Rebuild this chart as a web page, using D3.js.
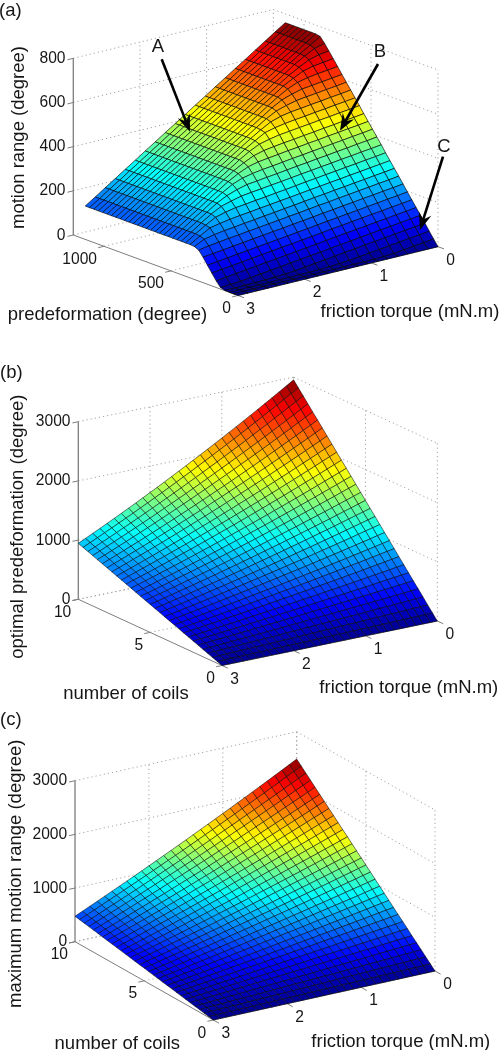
<!DOCTYPE html>
<html>
<head>
<meta charset="utf-8">
<style>
  html, body { margin: 0; padding: 0; background: #fff; }
  svg { display: block; font-family: "Liberation Sans", Arial, sans-serif; filter: blur(0.35px); }
  text { fill: #161616; }
</style>
</head>
<body>
<div id="chart"></div>
<script src="https://cdn.jsdelivr.net/npm/d3@7"></script>
<script>
// Mesh axes
const torqueCoarse = [0,0.15,0.3,0.45,0.6,0.75,0.9,1.05,1.2,1.35,1.5,1.65,1.8,1.95,2.1,2.25,2.4,2.55,2.7,2.85,3];
const torque = [0,0.1,0.2,0.3,0.4,0.5,0.6,0.7,0.8,0.9,1,1.1,1.2,1.3,1.4,1.5,1.6,1.7,1.8,1.9,2,2.1,2.2,2.3,2.4,2.5,2.6,2.7,2.8,2.9,3];
const predeformation = [0,32.6,65.1,97.7,130.3,162.9,195.4,228,260.6,293.1,325.7,358.3,390.9,423.4,456,488.6,521.1,553.7,586.3,618.9,651.4,684,716.6,749.1,781.7,814.3,846.9,879.4,912,944.6,977.1,1009.7,1042.3,1074.9,1107.4,1140];
const coils = [0,0.33,0.67,1,1.33,1.67,2,2.33,2.67,3,3.33,3.67,4,4.33,4.67,5,5.33,5.67,6,6.33,6.67,7,7.33,7.67,8,8.33,8.67,9,9.33,9.67,10];

// Tick labels
const torqueTicks = [0,1,2,3];
const predefTicks = [0,500,1000];
const coilTicks = [0,5,10];
const rangeTicks = [0,200,400,600,800];
const thousandTicks = [0,1000,2000,3000];

// (a) motion range: one row per torque, one column per predeformation
const motionRange = [
[0,28,56,85,113,141,169,197,226,254,282,310,338,367,395,423,451,479,508,536,564,592,620,649,677,705,732,756,760,760,760,760,760,760,760,760],
[0,22,50,79,107,135,163,191,220,248,276,304,332,361,389,417,445,473,502,530,558,586,614,643,671,698,719,727,730,730,730,730,730,730,730,730],
[0,17,45,74,102,130,158,186,215,243,271,299,327,356,384,412,440,468,497,525,553,581,609,638,665,686,696,699,699,699,699,699,699,699,699,699],
[0,11,39,68,96,124,152,180,209,237,265,293,321,350,378,406,434,462,491,519,547,575,603,631,654,663,669,669,669,669,669,669,669,669,669,669],
[0,6,34,63,91,119,147,175,204,232,260,288,316,345,373,401,429,457,486,514,542,570,598,621,632,638,638,638,638,638,638,638,638,638,638,638],
[0,3,28,57,85,113,141,169,198,226,254,282,310,339,367,395,423,451,480,508,536,564,586,602,608,608,608,608,608,608,608,608,608,608,608,608],
[0,2,23,52,80,108,136,164,193,221,249,277,305,334,362,390,418,446,475,503,531,553,571,576,577,577,577,577,577,577,577,577,577,577,577,577],
[0,1,17,46,74,102,130,158,187,215,243,271,299,328,356,384,412,440,469,497,522,539,546,547,547,547,547,547,547,547,547,547,547,547,547,547],
[0,1,12,41,69,97,125,153,182,210,238,266,294,323,351,379,407,435,464,489,508,515,516,516,516,516,516,516,516,516,516,516,516,516,516,516],
[0,0,8,35,63,91,119,147,176,204,232,260,288,317,345,373,401,429,455,478,483,486,486,486,486,486,486,486,486,486,486,486,486,486,486,486],
[0,0,5,29,57,85,113,141,170,198,226,254,282,311,339,367,395,422,444,452,455,455,455,455,455,455,455,455,455,455,455,455,455,455,455,455],
[0,0,3,24,52,80,108,136,165,193,221,249,277,306,334,362,389,410,422,425,425,425,425,425,425,425,425,425,425,425,425,425,425,425,425,425],
[0,0,2,18,46,74,102,130,159,187,215,243,271,300,328,355,378,389,395,395,395,395,395,395,395,395,395,395,395,395,395,395,395,395,395,395],
[0,0,2,13,41,69,97,125,154,182,210,238,266,295,323,345,358,364,364,364,364,364,364,364,364,364,364,364,364,364,364,364,364,364,364,364],
[0,0,1,9,35,63,91,119,148,176,204,232,260,289,311,328,333,334,334,334,334,334,334,334,334,334,334,334,334,334,334,334,334,334,334,334],
[0,0,1,6,30,58,86,114,143,171,199,227,255,278,295,302,303,303,303,303,303,303,303,303,303,303,303,303,303,303,303,303,303,303,303,303],
[0,0,0,4,24,52,80,108,137,165,193,221,246,265,272,273,273,273,273,273,273,273,273,273,273,273,273,273,273,273,273,273,273,273,273,273],
[0,0,0,3,19,47,75,103,132,160,188,213,234,241,242,242,242,242,242,242,242,242,242,242,242,242,242,242,242,242,242,242,242,242,242,242],
[0,0,0,2,13,41,69,97,126,154,181,204,209,212,212,212,212,212,212,212,212,212,212,212,212,212,212,212,212,212,212,212,212,212,212,212],
[0,0,0,1,10,36,64,92,121,148,171,178,181,181,181,181,181,181,181,181,181,181,181,181,181,181,181,181,181,181,181,181,181,181,181,181],
[0,0,0,1,7,30,58,86,115,140,149,151,151,151,151,151,151,151,151,151,151,151,151,151,151,151,151,151,151,151,151,151,151,151,151,151]
];

// (b) optimal predeformation: one row per torque, one column per coil count
const optimalPredef = [
[0,99,197,296,394,493,591,690,788,887,985,1084,1182,1281,1379,1478,1576,1675,1773,1872,1970,2069,2167,2266,2364,2463,2561,2660,2758,2857,2955],
[0,96,192,288,384,480,576,672,768,864,960,1056,1152,1247,1343,1440,1535,1631,1727,1823,1919,2015,2111,2207,2303,2399,2495,2591,2687,2783,2879],
[0,93,187,280,374,467,561,654,748,841,935,1028,1122,1215,1309,1402,1495,1589,1682,1776,1869,1963,2056,2150,2243,2337,2430,2524,2617,2711,2804],
[0,91,182,273,364,455,546,637,728,819,910,1001,1092,1183,1274,1365,1455,1546,1637,1728,1819,1910,2001,2092,2183,2274,2365,2456,2547,2638,2729],
[0,89,177,266,354,443,531,620,708,797,885,974,1062,1151,1239,1328,1416,1505,1593,1682,1770,1859,1947,2036,2124,2213,2301,2390,2478,2567,2655],
[0,86,172,258,344,430,516,602,688,774,860,946,1032,1118,1204,1290,1376,1463,1549,1635,1721,1807,1893,1979,2065,2151,2237,2323,2409,2495,2581],
[0,84,167,251,334,418,502,585,669,752,836,920,1003,1087,1170,1254,1338,1421,1505,1588,1672,1756,1839,1923,2006,2090,2174,2257,2341,2424,2508],
[0,81,162,244,325,406,487,568,650,731,812,893,974,1056,1137,1218,1299,1380,1462,1543,1624,1705,1786,1868,1949,2030,2111,2192,2274,2355,2436],
[0,79,158,236,315,394,473,552,630,709,788,867,946,1024,1103,1182,1261,1340,1418,1497,1576,1655,1734,1812,1891,1970,2049,2128,2206,2285,2364],
[0,76,153,229,306,382,459,535,611,688,764,841,917,994,1070,1147,1223,1299,1376,1452,1529,1605,1681,1758,1834,1911,1987,2064,2140,2217,2293],
[0,74,148,222,296,371,445,519,593,667,741,815,889,963,1037,1112,1186,1260,1334,1408,1482,1556,1630,1704,1778,1853,1927,2001,2075,2149,2223],
[0,72,144,215,287,359,431,502,574,646,718,789,861,933,1005,1077,1148,1220,1292,1364,1435,1507,1579,1651,1722,1794,1866,1938,2010,2081,2153],
[0,69,139,208,278,347,417,486,556,625,695,764,834,903,973,1042,1112,1181,1250,1320,1389,1459,1528,1598,1667,1737,1806,1876,1945,2015,2084],
[0,67,134,202,269,336,403,470,537,605,672,739,806,873,940,1008,1075,1142,1209,1276,1343,1411,1478,1545,1612,1679,1746,1814,1881,1948,2015],
[0,65,130,195,260,325,390,455,519,584,649,714,779,844,909,974,1039,1104,1169,1234,1299,1364,1428,1493,1558,1623,1688,1753,1818,1883,1948],
[0,63,125,188,251,313,376,439,501,564,627,689,752,815,877,940,1003,1065,1128,1191,1253,1316,1379,1441,1504,1567,1629,1692,1755,1817,1880],
[0,60,121,181,242,302,363,423,484,544,605,665,726,786,847,907,967,1028,1088,1149,1209,1270,1330,1391,1451,1512,1572,1633,1693,1754,1814],
[0,58,116,175,233,291,349,408,466,524,582,641,699,757,815,874,932,990,1048,1106,1165,1223,1281,1339,1398,1456,1514,1572,1631,1689,1747],
[0,56,112,168,224,280,336,392,449,505,561,617,673,729,785,841,897,953,1009,1065,1121,1177,1234,1290,1346,1402,1458,1514,1570,1626,1682],
[0,54,108,162,216,270,323,377,431,485,539,593,647,701,755,809,862,916,970,1024,1078,1132,1186,1240,1294,1348,1401,1455,1509,1563,1617],
[0,52,104,155,207,259,311,362,414,466,518,569,621,673,725,777,828,880,932,984,1035,1087,1139,1191,1242,1294,1346,1398,1450,1501,1553],
[0,50,99,149,199,248,298,347,397,447,496,546,596,645,695,744,794,844,893,943,993,1042,1092,1141,1191,1241,1290,1340,1390,1439,1489],
[0,48,95,143,190,238,285,333,380,428,475,523,570,618,665,713,761,808,856,903,951,998,1046,1093,1141,1188,1236,1283,1331,1378,1426],
[0,45,91,136,182,227,273,318,364,409,455,500,546,591,637,682,727,773,818,864,909,955,1000,1046,1091,1137,1182,1228,1273,1319,1364],
[0,43,87,130,174,217,260,304,347,391,434,477,521,564,608,651,694,738,781,825,868,911,955,998,1042,1085,1128,1172,1215,1259,1302],
[0,41,83,124,165,207,248,290,331,372,414,455,496,538,579,621,662,703,745,786,827,869,910,951,993,1034,1076,1117,1158,1200,1241],
[0,39,79,118,157,197,236,276,315,354,394,433,472,512,551,591,630,669,709,748,787,827,866,906,945,984,1024,1063,1102,1142,1181],
[0,37,75,112,149,187,224,262,299,336,374,411,448,486,523,561,598,635,673,710,747,785,822,860,897,934,972,1009,1046,1084,1121],
[0,35,71,106,142,177,212,248,283,319,354,389,425,460,496,531,566,602,637,673,708,743,779,814,850,885,920,956,991,1027,1062],
[0,33,67,100,134,167,201,234,267,301,334,368,401,435,468,501,535,568,602,635,669,702,735,769,802,836,869,903,936,969,1003],
[0,32,63,95,126,158,189,221,252,284,315,347,378,410,441,473,504,536,567,599,630,662,693,725,756,788,819,851,882,914,945]
];

// (c) maximum motion range: one row per torque, one column per coil count
const maxMotionRange = [
[0,83,166,249,332,415,498,581,664,747,830,913,996,1079,1162,1245,1328,1411,1494,1577,1660,1743,1826,1909,1992,2075,2158,2241,2324,2407,2490],
[0,81,161,242,322,403,483,564,645,725,806,886,967,1047,1128,1209,1289,1370,1450,1531,1611,1692,1772,1853,1934,2014,2095,2175,2256,2336,2417],
[0,78,156,235,313,391,469,547,625,704,782,860,938,1016,1094,1173,1251,1329,1407,1485,1563,1642,1720,1798,1876,1954,2032,2111,2189,2267,2345],
[0,76,152,227,303,379,455,530,606,682,758,833,909,985,1061,1137,1212,1288,1364,1440,1515,1591,1667,1743,1818,1894,1970,2046,2122,2197,2273],
[0,73,147,220,293,367,440,514,587,660,734,807,880,954,1027,1101,1174,1247,1321,1394,1467,1541,1614,1688,1761,1834,1908,1981,2054,2128,2201],
[0,71,142,213,284,355,426,497,568,639,710,781,852,923,994,1065,1136,1207,1278,1349,1420,1491,1562,1633,1704,1775,1846,1917,1988,2059,2130],
[0,69,137,206,275,343,412,481,549,618,687,755,824,893,961,1030,1099,1167,1236,1305,1373,1442,1511,1579,1648,1717,1785,1854,1923,1991,2060],
[0,66,133,199,265,332,398,464,530,597,663,729,796,862,928,995,1061,1127,1193,1260,1326,1392,1459,1525,1591,1658,1724,1790,1856,1923,1989],
[0,64,128,192,256,320,384,448,512,576,640,704,768,832,896,960,1024,1088,1152,1216,1280,1344,1408,1472,1536,1600,1664,1728,1792,1856,1920],
[0,62,123,185,247,308,370,431,493,555,616,678,740,801,863,925,986,1048,1109,1171,1233,1294,1356,1418,1479,1541,1602,1664,1726,1787,1849],
[0,59,119,178,237,297,356,415,475,534,593,653,712,771,831,890,949,1009,1068,1127,1187,1246,1305,1365,1424,1483,1543,1602,1661,1721,1780],
[0,57,114,171,228,285,342,399,456,513,570,627,684,741,798,856,913,970,1027,1084,1141,1198,1255,1312,1369,1426,1483,1540,1597,1654,1711],
[0,55,110,164,219,274,329,383,438,493,548,602,657,712,767,822,876,931,986,1041,1095,1150,1205,1260,1314,1369,1424,1479,1534,1588,1643],
[0,53,105,158,210,263,315,368,420,473,525,578,630,683,735,788,840,893,945,998,1050,1103,1155,1208,1260,1313,1365,1418,1470,1523,1575],
[0,50,100,151,201,251,301,352,402,452,502,553,603,653,703,754,804,854,904,954,1005,1055,1105,1155,1206,1256,1306,1356,1407,1457,1507],
[0,48,96,144,192,240,288,336,384,432,480,528,576,624,672,720,768,815,863,911,959,1007,1055,1103,1151,1199,1247,1295,1343,1391,1439],
[0,46,91,137,183,229,274,320,366,412,457,503,549,595,640,686,732,777,823,869,915,960,1006,1052,1098,1143,1189,1235,1281,1326,1372],
[0,44,87,131,174,218,261,305,348,392,435,479,522,566,609,653,697,740,784,827,871,914,958,1001,1045,1088,1132,1175,1219,1262,1306],
[0,41,83,124,165,207,248,289,331,372,413,455,496,537,579,620,661,703,744,785,827,868,909,951,992,1033,1075,1116,1157,1199,1240],
[0,39,78,117,157,196,235,274,313,352,391,430,470,509,548,587,626,665,704,743,783,822,861,900,939,978,1017,1057,1096,1135,1174],
[0,37,74,111,148,185,222,259,296,333,370,407,444,481,518,555,591,628,665,702,739,776,813,850,887,924,961,998,1035,1072,1109],
[0,35,70,104,139,174,209,243,278,313,348,382,417,452,487,522,556,591,626,661,695,730,765,800,834,869,904,939,973,1008,1043],
[0,33,65,98,131,163,196,228,261,294,326,359,392,424,457,490,522,555,587,620,653,685,718,751,783,816,848,881,914,946,979],
[0,30,61,91,122,152,183,213,244,274,305,335,366,396,427,457,487,518,548,579,609,640,670,701,731,762,792,823,853,884,914],
[0,28,57,85,113,142,170,199,227,255,284,312,340,369,397,426,454,482,511,539,567,596,624,652,681,709,738,766,794,823,851],
[0,26,52,79,105,131,157,184,210,236,262,289,315,341,367,394,420,446,472,498,525,551,577,603,630,656,682,708,735,761,787],
[0,24,48,72,97,121,145,169,193,217,241,265,290,314,338,362,386,410,434,459,483,507,531,555,579,603,628,652,676,700,724],
[0,22,44,66,88,110,132,154,176,198,220,242,264,286,308,330,353,375,397,419,441,463,485,507,529,551,573,595,617,639,661],
[0,20,40,60,80,100,120,140,159,179,199,219,239,259,279,299,319,339,359,379,399,419,439,459,478,498,518,538,558,578,598],
[0,18,36,54,71,89,107,125,143,161,179,197,214,232,250,268,286,304,322,340,357,375,393,411,429,447,465,483,500,518,536],
[0,16,32,48,63,79,95,111,127,143,158,174,190,206,222,238,253,269,285,301,317,333,348,364,380,396,412,428,443,459,475]
];

const width = 500;
const height = 1050;

const svg = d3.select("#chart").append("svg")
  .attr("width", width)
  .attr("height", height);

// matlab jet
const jetStops = [0, 0.125, 0.375, 0.625, 0.875, 1];
const jetColors = ["#00008f", "#0000ff", "#00ffff", "#ffff00", "#ff0000", "#800000"];

const gridColor = "#a2a2a2";
const axisColor = "#7d7d7d";

function text(g, x, y, str, size, anchor, rotate) {
  const t = g.append("text")
    .attr("font-size", size)
    .attr("text-anchor", anchor || "middle")
    .attr("dominant-baseline", "central")
    .text(str);
  if (rotate) t.attr("transform", `translate(${x},${y}) rotate(${rotate})`);
  else t.attr("x", x).attr("y", y);
  return t;
}

function drawPanel(p) {
  const g = svg.append("g");

  // orthographic view: three unit scales mapped on to the box edges
  const u = d3.scaleLinear().domain([p.xMax, 0]).range([0, 1]);
  const v = d3.scaleLinear().domain([0, p.yMax]).range([0, 1]);
  const w = d3.scaleLinear().domain([0, p.zMax]).range([0, p.boxHeight]);
  const ex = [p.right[0] - p.front[0], p.right[1] - p.front[1]];
  const ey = [p.left[0] - p.front[0], p.left[1] - p.front[1]];
  const project = (x, y, z) => [
    p.front[0] + u(x) * ex[0] + v(y) * ey[0],
    p.front[1] + u(x) * ex[1] + v(y) * ey[1] - w(z),
  ];

  const line = d3.line();
  const dotted = (a, b) => g.append("path")
    .attr("d", line([a, b]))
    .attr("fill", "none")
    .attr("stroke", gridColor)
    .attr("stroke-width", 1)
    .attr("stroke-dasharray", "1.2 3");
  const solid = (a, b, sw) => g.append("path")
    .attr("d", line([a, b]))
    .attr("fill", "none")
    .attr("stroke", axisColor)
    .attr("stroke-width", sw || 1);

  // back walls and floor
  p.zTicks.forEach((z) => {
    dotted(project(p.xMax, p.yMax, z), project(0, p.yMax, z));
    dotted(project(0, p.yMax, z), project(0, 0, z));
  });
  p.xTicks.filter((x) => x < p.xMax).forEach((x) => {
    dotted(project(x, p.yMax, 0), project(x, p.yMax, p.zMax));
    dotted(project(x, 0, 0), project(x, p.yMax, 0));
  });
  p.yTicks.forEach((y) => {
    dotted(project(0, y, 0), project(0, y, p.zMax));
    dotted(project(p.xMax, y, 0), project(0, y, 0));
  });

  // axis lines under the surface
  solid(project(p.xMax, p.yMax, 0), project(p.xMax, p.yMax, p.zMax), 1.3);
  solid(project(p.xMax, p.yMax, 0), project(p.xMax, 0, 0));
  solid(project(p.xMax, 0, 0), project(0, 0, 0));

  // ticks stick out of the box
  const len = Math.hypot(ex[0], ex[1]);
  const outX = [-ex[0] / len * 6, -ex[1] / len * 6];
  const lenY = Math.hypot(ey[0], ey[1]);
  const outY = [-ey[0] / lenY * 6.5, -ey[1] / lenY * 6.5];
  p.zTicks.forEach((z) => {
    const a = project(p.xMax, p.yMax, z);
    solid(a, [a[0] + outX[0], a[1] + outX[1]]);
  });
  p.yTicks.forEach((y) => {
    const a = project(p.xMax, y, 0);
    solid(a, [a[0] + outX[0], a[1] + outX[1]]);
  });
  p.xTicks.forEach((x) => {
    const a = project(x, 0, 0);
    solid(a, [a[0] + outY[0], a[1] + outY[1]]);
  });

  // the surface, painted from the back corner to the front
  const zTop = d3.max(p.z, (row) => d3.max(row));
  const jet = d3.scaleLinear()
    .domain(jetStops.map((s) => s * zTop))
    .range(jetColors);
  const cells = [];
  d3.range(p.xs.length - 1).forEach((i) => {
    d3.range(p.ys.length - 2, -1, -1).forEach((j) => {
      cells.push({
        pts: [
          project(p.xs[i], p.ys[j], p.z[i][j]),
          project(p.xs[i + 1], p.ys[j], p.z[i + 1][j]),
          project(p.xs[i + 1], p.ys[j + 1], p.z[i + 1][j + 1]),
          project(p.xs[i], p.ys[j + 1], p.z[i][j + 1]),
        ],
        value: d3.mean([p.z[i][j], p.z[i + 1][j], p.z[i + 1][j + 1], p.z[i][j + 1]]),
      });
    });
  });
  g.append("g").selectAll("path")
    .data(cells)
    .enter()
    .append("path")
    .attr("d", (d) => line(d.pts) + "Z")
    .attr("fill", (d) => jet(d.value))
    .attr("stroke", "#000")
    .attr("stroke-opacity", 0.75)
    .attr("stroke-width", p.meshWidth);

  // tick labels
  p.zTicks.forEach((z) => {
    const a = project(p.xMax, p.yMax, z);
    text(g, a[0] - 7.8, a[1] - 1, z, 15.6, "end");
  });
  p.yTicks.forEach((y) => {
    const a = project(p.xMax, y, 0);
    text(g, a[0] - 7, a[1] + 12, y, 15.6, "end");
  });
  p.xTicks.forEach((x) => {
    const a = project(x, 0, 0);
    text(g, a[0] + 12.5, a[1] + 12.5, x, 15.6);
  });

  // titles
  text(g, p.tag[0], p.tag[1], p.tag[2], 18.5, "start");
  text(g, p.yTitle[0], p.yTitle[1], p.yTitle[2], 18.5);
  text(g, p.xTitle[0], p.xTitle[1], "friction torque (mN.m)", 18.5);
  text(g, p.zTitle[0], p.zTitle[1], p.zTitle[2], 18.5, "middle", -90);

  return g;
}

// black annotation arrow with a notched head
function arrow(g, label, lx, ly, x0, y0, x1, y1) {
  text(g, lx, ly, label, 18.5);
  const a = Math.atan2(y1 - y0, x1 - x0);
  const at = (d, s) => [
    x1 - d * Math.cos(a) - s * Math.sin(a),
    y1 - d * Math.sin(a) + s * Math.cos(a),
  ];
  g.append("path")
    .attr("d", d3.line()([[x0, y0], at(10, 0)]))
    .attr("stroke", "#000")
    .attr("stroke-width", 2.6);
  g.append("path")
    .attr("d", d3.line()([at(0, 0), at(17, 6.5), at(11, 0), at(17, -6.5)]) + "Z")
    .attr("fill", "#000");
}

const panelA = drawPanel({
  xs: torqueCoarse, ys: predeformation, z: motionRange, meshWidth: 0.85,
  xMax: 3, yMax: 1229, zMax: 800,
  front: [238, 295.5], right: [438, 246.7], left: [73.3, 235], boxHeight: 176.7,
  xTicks: torqueTicks, yTicks: predefTicks, zTicks: rangeTicks,
  tag: [-1, 9, "(a)"],
  yTitle: [107.5, 313.5, "predeformation (degree)"],
  xTitle: [410, 310],
  zTitle: [17, 137.5, "motion range (degree)"],
});
arrow(panelA, "A", 158, 45, 161.7, 59.3, 190, 131.7);
arrow(panelA, "B", 380, 50, 378, 64, 340, 130.7);
arrow(panelA, "C", 444, 145, 443, 156.7, 420, 230);

drawPanel({
  xs: torque, ys: coils, z: optimalPredef, meshWidth: 0.7,
  xMax: 3, yMax: 10, zMax: 3000,
  front: [222, 665.5], right: [437.3, 621], left: [78.3, 599.3], boxHeight: 177.6,
  xTicks: torqueTicks, yTicks: coilTicks, zTicks: thousandTicks,
  tag: [0, 371.5, "(b)"],
  yTitle: [126, 692.3, "number of coils"],
  xTitle: [408.8, 686.7],
  zTitle: [16.7, 526.7, "optimal predeformation (degree)"],
});

drawPanel({
  xs: torque, ys: coils, z: maxMotionRange, meshWidth: 0.7,
  xMax: 3, yMax: 10, zMax: 3000,
  front: [213.3, 1020], right: [435, 971], left: [75, 941.7], boxHeight: 161,
  xTicks: torqueTicks, yTicks: coilTicks, zTicks: thousandTicks,
  tag: [0, 718.3, "(c)"],
  yTitle: [117.3, 1042.8, "number of coils"],
  xTitle: [400.8, 1040],
  zTitle: [14, 873.8, "maximum motion range (degree)"],
});
</script>
</body>
</html>
